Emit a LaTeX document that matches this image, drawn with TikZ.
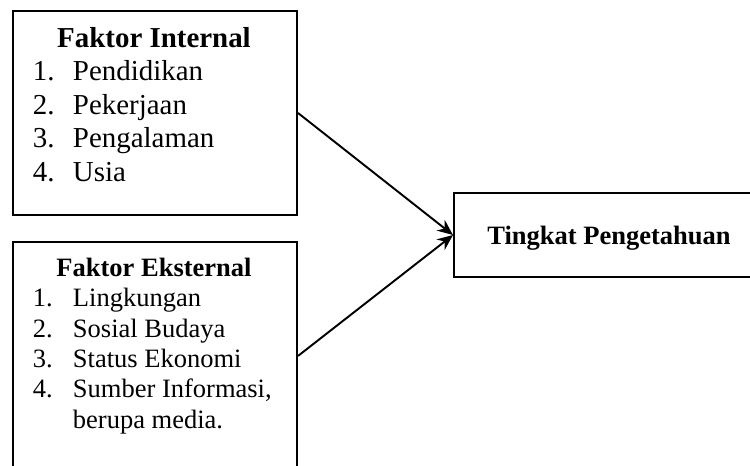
\documentclass[tikz,border=0pt]{standalone}
\usepackage{fontspec}
\setmainfont{Liberation Serif}
\usetikzlibrary{arrows.meta}

\begin{document}
\begin{tikzpicture}[
    x=0.415pt, y=-0.415pt,
    line width=0.8pt,
    box/.style={draw, rectangle, anchor=north west, inner sep=0pt},
    heading/.style={anchor=base, inner sep=0pt},
    entry/.style={anchor=base west, inner sep=0pt},
    bigtext/.style={font=\fontsize{12}{14}\selectfont},
    smalltext/.style={font=\fontsize{11}{13}\selectfont},
    arrow/.style={-{Stealth[length=6.5pt, width=5.5pt]}}
]
    \useasboundingbox (0,0) rectangle (750,466);

    % Boxes
    \node[box, minimum width=117.9pt, minimum height=84.7pt] (internal) at (12,10) {};
    \node[box, minimum width=117.9pt, minimum height=94.6pt] (external) at (12,241) {};
    \node[box, smalltext, minimum width=128.7pt, minimum height=34.9pt, text depth=0pt] (knowledge) at (453,192) {\bfseries Tingkat Pengetahuan};

    % Faktor Internal
    \node[heading, bigtext] (internaltitle) at (154,47.5) {\bfseries Faktor Internal};
    \foreach \n/\txt/\y in {1/Pendidikan/81, 2/Pekerjaan/114.5, 3/Pengalaman/148, 4/Usia/181.5} {
        \node[entry, bigtext] (inum\n) at (32,\y) {\n.};
        \node[entry, bigtext] (itext\n) at (72,\y) {\txt};
    }

    % Faktor Eksternal
    \node[heading, smalltext] (externaltitle) at (154,276.7) {\bfseries Faktor Eksternal};
    \foreach \n/\txt/\y in {1/Lingkungan/306.7, 2/Sosial Budaya/337.2, 3/Status Ekonomi/367.6, 4/{Sumber Informasi,}/398} {
        \node[entry, smalltext] (enum\n) at (32,\y) {\n.};
        \node[entry, smalltext] (etext\n) at (72,\y) {\txt};
    }
    \node[entry, smalltext] (etext5) at (72,428.4) {berupa media.};

    % Connections
    \draw[arrow] (internal.east) -- (knowledge.west);
    \draw[arrow] (external.east) -- (knowledge.west);
\end{tikzpicture}
\end{document}
